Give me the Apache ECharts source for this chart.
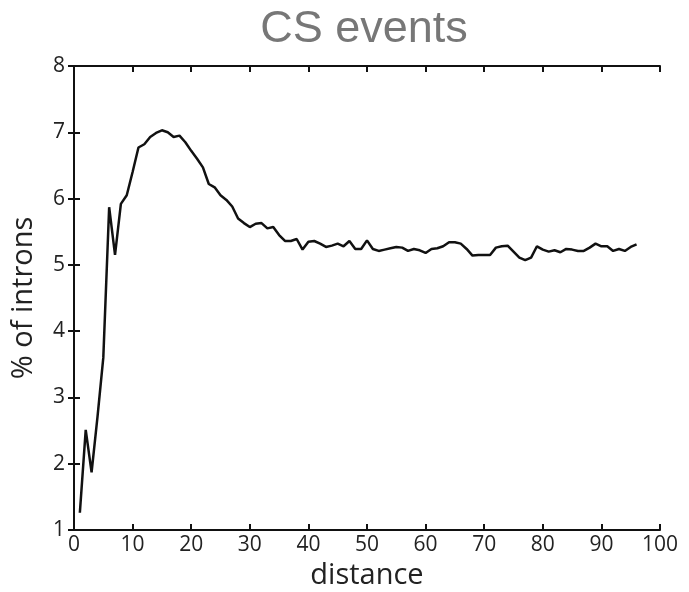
<!DOCTYPE html>
<html><head><meta charset="utf-8">
<script src="https://cdn.jsdelivr.net/npm/echarts@6/dist/echarts.min.js"></script>
<style>html,body{margin:0;padding:0;background:#fff}#c{width:689px;height:592px}</style>
</head><body><div id="c"></div>
<script>
const distance = [];
for (let i = 1; i <= 96; i++) distance.push(i);
const percentIntrons = [
1.26,2.51,1.87,2.7,3.6,5.87,5.15,5.92,6.05,6.4,
6.77,6.82,6.93,6.99,7.03,7.0,6.93,6.95,6.85,6.72,
6.6,6.47,6.22,6.17,6.05,5.98,5.88,5.70,5.63,5.57,
5.62,5.63,5.55,5.57,5.45,5.36,5.36,5.39,5.23,5.35,
5.36,5.32,5.27,5.29,5.32,5.28,5.36,5.24,5.24,5.37,
5.24,5.21,5.23,5.25,5.27,5.26,5.21,5.24,5.22,5.18,
5.24,5.25,5.28,5.34,5.34,5.32,5.24,5.14,5.15,5.15,
5.15,5.26,5.28,5.29,5.2,5.11,5.07,5.11,5.28,5.23,
5.20,5.22,5.19,5.24,5.23,5.21,5.21,5.26,5.32,5.28,
5.28,5.21,5.24,5.21,5.27,5.31];
const xTicks = [0,10,20,30,40,50,60,70,80,90,100];
const yTicks = [1,2,3,4,5,6,7,8];

const chart = echarts.init(document.getElementById('c'));
const axisFont = {fontFamily:'Open Sans', fontSize:21, color:'#222'};
const axisLine = {show:true, lineStyle:{color:'#111', width:2}};
const axisTick = {show:true, inside:true, length:6, lineStyle:{color:'#111', width:2}};
chart.setOption({
  animation:false,
  title:{text:'CS events', left:359, top:2, textAlign:'center',
    textStyle:{fontFamily:'Liberation Sans', fontSize:45, fontWeight:'normal', color:'#777'}},
  grid:{left:74, right:29, top:66, bottom:62, containLabel:false, outerBoundsMode:'none'},
  xAxis:[{type:'value', min:0, max:100, interval:10, position:'bottom',
    name:'distance', nameLocation:'middle', nameGap:31,
    nameTextStyle:{fontFamily:'Open Sans', fontSize:29, color:'#222'},
    axisLine, axisTick, splitLine:{show:false},
    axisLabel:{...axisFont, margin:5, formatter:v=>xTicks.includes(v)?String(v):''}},
   {type:'value', min:0, max:100, interval:10, position:'top',
    axisLine, axisTick, splitLine:{show:false}, axisLabel:{show:false}}],
  yAxis:[{type:'value', min:1, max:8, interval:1, position:'left',
    name:'% of introns', nameLocation:'middle', nameGap:36, nameRotate:90,
    nameTextStyle:{fontFamily:'Open Sans', fontSize:29, color:'#222'},
    axisLine, axisTick, splitLine:{show:false},
    axisLabel:{...axisFont, margin:9, formatter:v=>yTicks.includes(v)?String(v):''}},
   {type:'value', min:1, max:8, interval:1, position:'right',
    axisLine, axisTick, splitLine:{show:false}, axisLabel:{show:false}}],
  series:[{type:'line', data:distance.map((d,i)=>[d, percentIntrons[i]]),
    showSymbol:false, symbol:'none', lineStyle:{color:'#111', width:2.5}}]
});
</script></body></html>
